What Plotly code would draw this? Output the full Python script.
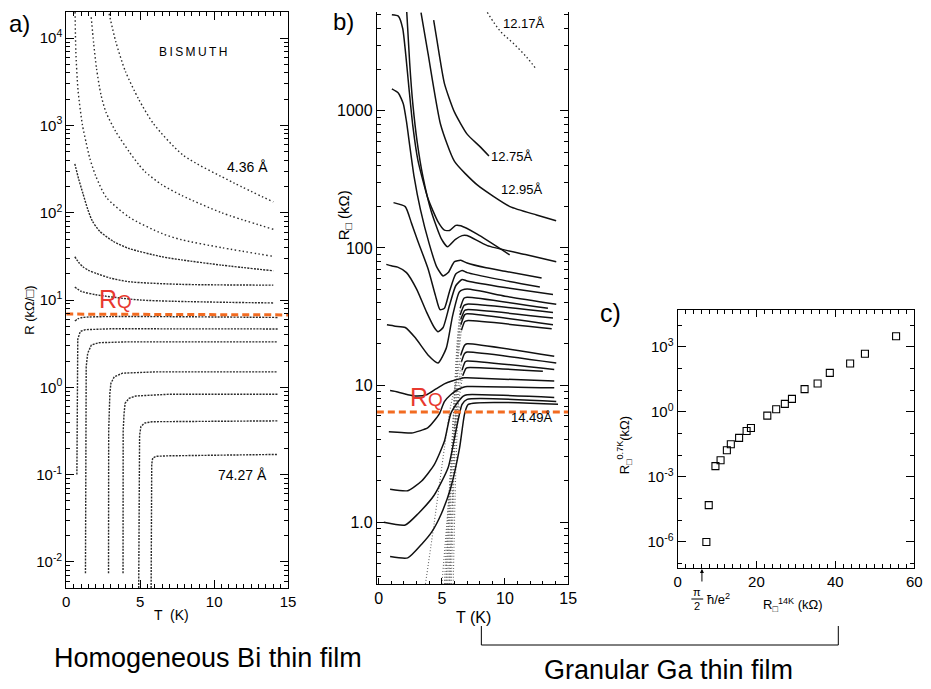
import plotly.graph_objects as go

FONT = "Liberation Sans, Arial, sans-serif"
W, H = 931, 689
OFF = 8  # page body margin of the html page

# ---------------- Panel a : homogeneous Bi films (T in K, R in kOhm/sq) ----------------
bi_436_T = [2.9, 3.35, 4.0, 4.9, 5.9, 7.9, 11.35, 14.0]
bi_436_R = [19050, 9120, 4169, 1995, 1047, 457, 219, 133]
bi_2_T = [1.69, 1.85, 2.05, 2.35, 2.69, 3.35, 4.25, 4.91, 5.33, 6.47, 7.8, 10.5, 14.0]
bi_2_R = [17380, 8913, 4467, 2239, 1413, 851, 501, 355, 295, 209, 158, 100, 64.6]
bi_3_T = [0.6, 0.65, 0.8, 1.1, 1.35, 1.6, 2.0, 2.7, 4.25, 6.5, 7.8, 10.5, 14.0]
bi_3_R = [19950, 7079, 2512, 1000, 631, 417, 263, 151, 89.1, 57.5, 49.0, 39.8, 31.6]
bi_4_T = [0.58, 0.85, 1.13, 1.45, 1.75, 2.25, 3.2, 4.25, 6.47, 7.8, 10.5, 14.0]
bi_4_R = [363, 240, 166, 110, 81.3, 61.7, 46.8, 38.9, 31.3, 28.8, 25.1, 21.6]
bi_5_T = [0.58, 0.85, 1.13, 1.5, 2.02, 3.0, 4.25, 7.8, 14.0]
bi_5_R = [31.3, 26.9, 24.0, 21.9, 20.2, 17.8, 16.2, 15.1, 14.8]
bi_6_T = [0.58, 1.0, 2.0, 5.0, 14.0]
bi_6_R = [14.1, 12.6, 11.5, 10.0, 9.25]
bi_7_T = [0.58, 0.8, 1.1, 3.0, 14.3]
bi_7_R = [5.75, 6.10, 6.31, 6.46, 6.31]
bi_8_T = [0.72, 0.73, 0.78, 0.95, 1.3, 3.0, 14.3]
bi_8_R = [0.1, 2.0, 3.55, 4.37, 4.57, 4.68, 4.66]
bi_9_T = [1.3, 1.31, 1.35, 1.45, 1.7, 2.2, 4.0, 14.3]
bi_9_R = [0.0074, 1.0, 1.72, 2.45, 3.05, 3.24, 3.31, 3.31]
bi_10_T = [2.86, 2.87, 2.95, 3.02, 3.25, 3.8, 6.0, 14.3]
bi_10_R = [0.0074, 0.316, 0.851, 1.11, 1.32, 1.45, 1.50, 1.50]
bi_11_T = [3.84, 3.85, 3.91, 3.98, 4.25, 4.7, 7.0, 14.3]
bi_11_R = [0.0074, 0.316, 0.501, 0.656, 0.748, 0.794, 0.832, 0.832]
bi_12_T = [4.9, 4.91, 4.96, 5.05, 5.3, 5.8, 8.0, 14.3]
bi_12_R = [0.005, 0.158, 0.282, 0.355, 0.389, 0.403, 0.407, 0.412]
bi_7427_T = [5.74, 5.75, 5.78, 5.85, 6.1, 7.0, 10.0, 14.3]
bi_7427_R = [0.005, 0.079, 0.132, 0.155, 0.162, 0.164, 0.166, 0.170]
bi_RQ_T = [0, 15]
bi_RQ_R = [6.9, 6.75]

# ---------------- Panel b : granular Ga films (T in K, R in kOhm) ----------------
ga_1217_T = [8.6, 9.63, 10.68, 11.72, 12.5]
ga_1217_R = [5210, 3800, 3090, 2455, 1995]
ga_1275_T = [4.35, 4.6, 5.2, 6.0, 7.0, 8.0, 8.73]
ga_1275_R = [4571, 3311, 1585, 977, 676, 550, 468]
ga_1295_T = [3.35, 3.9, 4.9, 6.0, 7.8, 10.4, 12.5, 14.05]
ga_1295_R = [5190, 2630, 794, 427, 288, 200, 174, 158]
ga_1_T = [1.04, 1.55, 1.9, 2.15, 2.4, 2.7, 3.1, 3.9, 4.7, 5.2, 5.6, 6.1, 6.5, 7.8, 10.37]
ga_1_R = [5012, 4898, 3981, 2512, 1445, 776, 437, 229, 155, 135, 134, 146, 145, 126, 89.1]
ga_2_T = [2.2, 2.45, 2.7, 3.05, 3.5, 4.15, 4.95, 5.45, 6.05, 6.6, 7.0, 8.6, 11.7, 14.06]
ga_2_R = [5623, 2239, 1122, 589, 331, 186, 117, 102, 115, 123, 123, 104, 89.1, 79.4]
ga_3_T = [1.04, 1.55, 1.95, 2.2, 2.45, 2.8, 3.3, 4.0, 4.6, 5.1, 5.5, 6.0, 6.5, 7.0, 8.5, 10.0, 12.9]
ga_3_R = [1445, 1349, 1122, 832, 562, 331, 191, 107, 72.4, 62.5, 66.1, 79.4, 81.3, 77.6, 71.6, 67.6, 60.3]
ga_4_T = [1.17, 2.1, 2.6, 3.1, 3.9, 4.5, 4.85, 5.2, 5.6, 6.1, 6.6, 7.0, 9.5, 12.76]
ga_4_R = [214, 200, 151, 112, 70.8, 44.7, 35.5, 36.3, 48.0, 64.6, 68.5, 66.1, 59.0, 51.9]
ga_5_T = [0.6, 1.0, 1.5, 2.2, 3.0, 3.8, 4.4, 4.7, 5.1, 5.6, 6.1, 6.6, 7.0, 10.0, 13.8]
ga_5_R = [75.9, 74.1, 72.4, 66.1, 50.1, 33.9, 26.3, 24.5, 26.3, 38.0, 53.0, 58.9, 57.5, 51.5, 45.7]
ga_6_T = [0.65, 1.3, 2.1, 2.9, 3.9, 4.7, 5.35, 5.85, 6.4, 7.0, 10.0, 14.06]
ga_6_R = [27.5, 26.9, 26.3, 22.1, 16.6, 14.5, 18.6, 32.0, 48.0, 50.1, 44.5, 38.9]
ga_7_T = [6.45, 6.75, 7.0, 13.4]
ga_7_R = [36.3, 43.0, 43.7, 36.3]
ga_7_dropT = [5.55, 5.75, 5.95, 6.2, 6.45]
ga_7_dropR = [0.355, 2.0, 7.08, 20.0, 36.3]
ga_8_T = [6.45, 6.75, 7.0, 13.8]
ga_8_R = [32.4, 38.0, 38.9, 33.9]
ga_8_dropT = [5.45, 5.7, 5.95, 6.2, 6.45]
ga_8_dropR = [0.355, 2.0, 7.08, 17.8, 32.4]
ga_9_T = [6.5, 6.8, 7.0, 13.8]
ga_9_R = [30.2, 35.0, 35.5, 30.9]
ga_9_dropT = [5.65, 5.85, 6.05, 6.25, 6.5]
ga_9_dropR = [0.355, 1.58, 6.31, 17.8, 30.2]
ga_10_T = [6.5, 6.8, 7.0, 13.8]
ga_10_R = [27.5, 32.5, 33.1, 27.5]
ga_10_dropT = [5.35, 5.6, 5.9, 6.25, 6.5]
ga_10_dropR = [0.355, 1.58, 5.62, 15.8, 27.5]
ga_11_T = [6.55, 6.8, 7.0, 13.7]
ga_11_R = [25.1, 29.0, 29.5, 25.7]
ga_11_dropT = [5.75, 5.95, 6.1, 6.3, 6.55]
ga_11_dropR = [0.355, 2.0, 6.31, 15.8, 25.1]
ga_12_T = [6.5, 6.8, 7.0, 13.9]
ga_12_R = [16.6, 19.5, 20.0, 16.2]
ga_12_dropT = [3.7, 4.4, 5.2, 5.7, 6.2, 6.5]
ga_12_dropR = [0.355, 1.0, 3.47, 7.08, 11.2, 16.6]
ga_13_T = [6.55, 6.8, 7.0, 14.06]
ga_13_R = [14.8, 17.0, 17.4, 14.5]
ga_13_dropT = [5.6, 5.85, 6.1, 6.3, 6.55]
ga_13_dropR = [0.355, 1.58, 5.01, 10.0, 14.8]
ga_14_T = [6.6, 6.85, 7.0, 13.9]
ga_14_R = [12.9, 14.8, 15.0, 13.0]
ga_14_dropT = [5.9, 6.05, 6.2, 6.35, 6.6]
ga_14_dropR = [0.355, 1.58, 4.47, 8.91, 12.9]
ga_15_T = [6.65, 6.9, 7.0, 13.0]
ga_15_R = [11.7, 13.2, 13.4, 12.6]
ga_15_dropT = [5.2, 5.5, 5.9, 6.4, 6.65]
ga_15_dropR = [0.355, 1.26, 3.98, 8.32, 11.7]
ga_16_T = [0.9, 1.5, 2.3, 3.0, 3.8, 4.5, 5.2, 5.8, 6.4, 6.8, 7.0, 13.9]
ga_16_R = [9.12, 8.91, 8.51, 8.32, 8.51, 9.33, 10.2, 10.7, 11.1, 11.3, 11.3, 10.7]
ga_17_T = [0.8, 1.8, 2.6, 3.9, 4.8, 5.2, 5.7, 6.3, 6.7, 7.0, 13.9]
ga_17_R = [4.57, 4.52, 4.47, 4.90, 6.17, 7.59, 8.51, 9.33, 9.66, 9.77, 9.55]
ga_18_T = [0.9, 2.3, 3.4, 4.4, 5.2, 5.7, 6.3, 6.7, 7.0, 13.9]
ga_18_R = [1.74, 1.70, 2.0, 2.63, 3.89, 6.17, 7.59, 8.32, 8.51, 8.13]
ga_19_T = [0.4, 2.1, 3.1, 4.4, 5.5, 6.1, 6.6, 7.0, 14.06]
ga_19_R = [1.0, 0.955, 1.15, 1.58, 2.51, 4.57, 7.24, 7.87, 7.59]
ga_1449_T = [0.9, 2.3, 3.4, 4.2, 4.95, 5.7, 6.4, 6.8, 7.1, 14.2]
ga_1449_R = [0.562, 0.550, 0.692, 0.851, 1.15, 1.78, 3.47, 6.17, 7.24, 7.24]
ga_band1_T = [5.3, 5.6, 6.0, 6.4]
ga_band1_R = [0.355, 1.26, 3.98, 7.08]
ga_band2_T = [5.0, 5.4, 5.8, 6.2]
ga_band2_R = [0.355, 1.0, 3.16, 7.94]
ga_RQ_T = [-0.15, 15]
ga_RQ_R = [6.36, 6.36]

# ---------------- Panel c : R(0.7 K) vs R(14 K), kOhm ----------------
c_R14 = [7.3, 7.9, 9.6, 10.9, 12.5, 13.5, 15.6, 17.5, 18.6, 22.75, 25.0, 27.2, 29.0,
         32.2, 35.5, 38.6, 43.75, 47.5, 55.4]
c_R07 = [1.0e-6, 5.0e-5, 3.16e-3, 5.89e-3, 1.70e-2, 3.24e-2, 6.31e-2, 0.132, 0.182, 0.676,
         1.32, 2.34, 3.98, 11.2, 20.4, 63.1, 170, 479, 3090]

fig = go.Figure()

DOT_SPARSE = "1.5px,2.5px"
DOT_DENSE = "2px,1.2px"
INK = "#2a2a2a"
ORANGE = "#f26b21"

for T, R, dash, shape in [
    (bi_436_T, bi_436_R, DOT_SPARSE, "spline"),
    (bi_2_T, bi_2_R, DOT_SPARSE, "spline"),
    (bi_3_T, bi_3_R, DOT_SPARSE, "spline"),
    (bi_4_T, bi_4_R, DOT_DENSE, "spline"),
    (bi_5_T, bi_5_R, DOT_DENSE, "spline"),
    (bi_6_T, bi_6_R, DOT_DENSE, "spline"),
    (bi_7_T, bi_7_R, DOT_DENSE, "spline"),
    (bi_8_T, bi_8_R, DOT_DENSE, "linear"),
    (bi_9_T, bi_9_R, DOT_DENSE, "linear"),
    (bi_10_T, bi_10_R, DOT_DENSE, "linear"),
    (bi_11_T, bi_11_R, DOT_DENSE, "linear"),
    (bi_12_T, bi_12_R, DOT_DENSE, "linear"),
    (bi_7427_T, bi_7427_R, DOT_DENSE, "linear"),
]:
    fig.add_trace(go.Scatter(x=T, y=R, mode="lines", xaxis="x", yaxis="y",
                             line=dict(color=INK, width=1.4, dash=dash, shape=shape, smoothing=0.7),
                             hoverinfo="skip"))
fig.add_trace(go.Scatter(x=bi_RQ_T, y=bi_RQ_R, mode="lines", xaxis="x", yaxis="y",
                         line=dict(color=ORANGE, width=3, dash="7px,4px"), hoverinfo="skip"))

fig.add_trace(go.Scatter(x=ga_1217_T, y=ga_1217_R, mode="lines", xaxis="x2", yaxis="y2",
                         line=dict(color=INK, width=1.3, dash=DOT_SPARSE, shape="spline"),
                         hoverinfo="skip"))
drops_b = [
    (ga_7_dropT, ga_7_dropR), (ga_8_dropT, ga_8_dropR), (ga_9_dropT, ga_9_dropR),
    (ga_10_dropT, ga_10_dropR), (ga_11_dropT, ga_11_dropR), (ga_12_dropT, ga_12_dropR),
    (ga_13_dropT, ga_13_dropR), (ga_14_dropT, ga_14_dropR), (ga_15_dropT, ga_15_dropR),
    (ga_band1_T, ga_band1_R), (ga_band2_T, ga_band2_R),
]
for T, R in drops_b:
    fig.add_trace(go.Scatter(x=T, y=R, mode="lines", xaxis="x2", yaxis="y2",
                             line=dict(color="#666", width=1.1, dash="1px,2px", shape="spline",
                                       smoothing=0.6),
                             hoverinfo="skip"))
solid_b = [
    (ga_1275_T, ga_1275_R), (ga_1295_T, ga_1295_R), (ga_1_T, ga_1_R), (ga_2_T, ga_2_R),
    (ga_3_T, ga_3_R), (ga_4_T, ga_4_R), (ga_5_T, ga_5_R), (ga_6_T, ga_6_R),
    (ga_7_T, ga_7_R), (ga_8_T, ga_8_R), (ga_9_T, ga_9_R), (ga_10_T, ga_10_R),
    (ga_11_T, ga_11_R), (ga_12_T, ga_12_R), (ga_13_T, ga_13_R), (ga_14_T, ga_14_R),
    (ga_15_T, ga_15_R), (ga_16_T, ga_16_R), (ga_17_T, ga_17_R), (ga_18_T, ga_18_R),
    (ga_19_T, ga_19_R), (ga_1449_T, ga_1449_R),
]
for T, R in solid_b:
    fig.add_trace(go.Scatter(x=T, y=R, mode="lines", xaxis="x2", yaxis="y2",
                             line=dict(color="#111", width=1.5, shape="spline", smoothing=0.55),
                             hoverinfo="skip"))
fig.add_trace(go.Scatter(x=ga_RQ_T, y=ga_RQ_R, mode="lines", xaxis="x2", yaxis="y2",
                         line=dict(color=ORANGE, width=3, dash="7px,4px"), hoverinfo="skip"))

fig.add_trace(go.Scatter(x=c_R14, y=c_R07, mode="markers", xaxis="x3", yaxis="y3",
                         marker=dict(symbol="square-open", size=7, color="black",
                                     line=dict(width=1.1, color="black")),
                         hoverinfo="skip"))


def px_x(x):
    return (x - OFF) / W


def px_y(y):
    return 1 - (y - OFF) / H


def log_minor(e0, e1):
    return [m * 10 ** e for e in range(e0, e1) for m in range(2, 10)]


def axis_style(size):
    return dict(showline=True, linecolor="black", linewidth=1, ticks="inside",
                tickcolor="black", showgrid=False, zeroline=False,
                tickfont=dict(family=FONT, size=size, color="black"))


def minor(vals, ln):
    return dict(tickvals=vals, ticklen=ln, ticks="inside", tickcolor="black")


fig.update_layout(
    width=W, height=H, margin=dict(l=0, r=0, t=0, b=0),
    paper_bgcolor="white", plot_bgcolor="white", showlegend=False,
    xaxis=dict(domain=[px_x(63), px_x(288)], range=[0, 15], anchor="y",
               tickvals=[0, 5, 10, 15], ticklen=8, mirror="ticks",
               minor=minor([i * 0.5 for i in range(31)], 4), **axis_style(15)),
    yaxis=dict(domain=[px_y(588), px_y(12)], type="log", range=[-2.3, 4.3], anchor="x",
               tickvals=[0.01, 0.1, 1, 10, 100, 1000, 10000],
               ticktext=["10<sup>-2</sup>", "10<sup>-1</sup>", "10<sup>0</sup>", "10<sup>1</sup>",
                         "10<sup>2</sup>", "10<sup>3</sup>", "10<sup>4</sup>"],
               ticklen=8, mirror="ticks", minor=minor(log_minor(-3, 5), 4), **axis_style(15)),
    xaxis2=dict(domain=[px_x(378), px_x(572)], range=[-0.15, 15], anchor="y2",
                tickvals=[0, 5, 10, 15], ticklen=6, mirror=False,
                minor=minor(list(range(16)), 3), **axis_style(16)),
    yaxis2=dict(domain=[px_y(584), px_y(12)], type="log", range=[-0.45, 3.72], anchor="x2",
                tickvals=[1, 10, 100, 1000], ticktext=["1.0", "10", "100", "1000"],
                ticklen=8, mirror="ticks", minor=minor(log_minor(-1, 4), 4), **axis_style(16)),
    xaxis3=dict(domain=[px_x(683), px_x(923)], range=[0, 60], anchor="y3",
                tickvals=[0, 20, 40, 60], ticklen=7, mirror="ticks",
                minor=minor(list(range(0, 61, 2)), 4), **axis_style(15)),
    yaxis3=dict(domain=[px_y(568), px_y(310)], type="log", range=[-7.2, 4.7], anchor="x3",
                tickvals=[1e-6, 1e-3, 1, 1e3],
                ticktext=["10<sup>-6</sup>", "10<sup>-3</sup>", "10<sup>0</sup>", "10<sup>3</sup>"],
                ticklen=8, mirror="ticks", minor=minor([10 ** e for e in range(-7, 5)], 4),
                **axis_style(15)),
)


def ann(x, y, text, size, color="black", angle=0, xanchor="center"):
    return dict(xref="paper", yref="paper", x=px_x(x), y=px_y(y), text=text, showarrow=False,
                textangle=angle, xanchor=xanchor, yanchor="middle",
                font=dict(family=FONT, size=size, color=color))


RED = "#e8392f"
RQ_TEXT = "R<span style='font-size:19px'>Q</span>"
annotations = [
    ann(16, 23, "a)", 24), ann(344, 22, "b)", 24), ann(615, 313, "c)", 25),
    ann(192, 52, "B\u2009I\u2009S\u2009M\u2009U\u2009T\u2009H", 12),
    ann(247, 167, "4.36 Å", 14), ann(242, 475, "74.27 Å", 14),
    ann(25, 310, "R (kΩ/□)", 13, angle=-90), ann(170, 615, "T  (K)", 14),
    ann(113, 299, RQ_TEXT, 25, color=RED),
    ann(527, 23, "12.17Å", 13), ann(515, 157, "12.75Å", 13), ann(525, 190, "12.95Å", 13),
    ann(535, 417, "14.49Å", 13),
    ann(428, 397, RQ_TEXT, 25, color=RED),
    ann(346, 215, "R<sub>□</sub> (kΩ)", 15, angle=-90), ann(476, 617, "T (K)", 16),
    ann(629, 445, "R<sub>□</sub><sup>0.7K</sup>(kΩ)", 13, angle=-90),
    ann(800, 605, "R<sub>□</sub><sup>14K</sup> (kΩ)", 13),
    ann(703, 592, "π", 11), ann(703, 606, "2", 11), ann(724, 599, "ħ/e<sup>2</sup>", 13),
    ann(207, 658, "Homogeneous Bi thin film", 27),
    ann(674, 670, "Granular Ga thin film", 27),
]
annotations.append(dict(xref="paper", yref="paper", x=px_x(707.7), y=px_y(569), ax=0, ay=14,
                        axref="pixel", ayref="pixel", text="", showarrow=True, arrowhead=2,
                        arrowsize=0.8, arrowwidth=1, arrowcolor="black"))
fig.update_layout(annotations=annotations)

line_blk = dict(color="black", width=1)
shapes = [
    dict(type="line", xref="paper", yref="paper", x0=px_x(697), x1=px_x(709),
         y0=px_y(599), y1=px_y(599), line=line_blk),
    dict(type="line", xref="paper", yref="paper", x0=px_x(484), x1=px_x(484),
         y0=px_y(626), y1=px_y(645), line=line_blk),
    dict(type="line", xref="paper", yref="paper", x0=px_x(484), x1=px_x(846),
         y0=px_y(645), y1=px_y(645), line=line_blk),
    dict(type="line", xref="paper", yref="paper", x0=px_x(846), x1=px_x(846),
         y0=px_y(626), y1=px_y(645), line=line_blk),
]
fig.update_layout(shapes=shapes)

fig.write_html("out.html")
